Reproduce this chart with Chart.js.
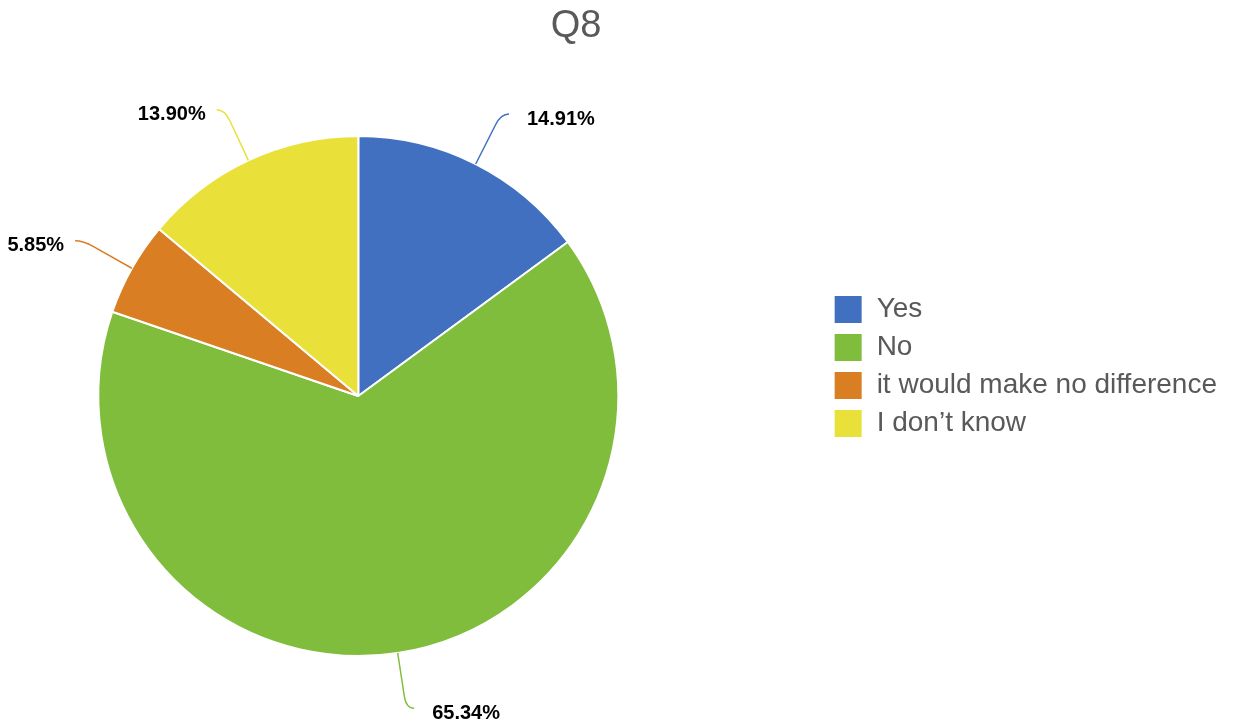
<!DOCTYPE html>
<html>
<head>
<meta charset="utf-8">
<title>Q8</title>
<script src="https://cdn.jsdelivr.net/npm/chart.js@4/dist/chart.umd.min.js"></script>
<style>
  html, body { margin: 0; padding: 0; background: #fff; overflow: hidden; }
  /* canvas is wider than the window and shifted left so the pie sits left of centre */
  canvas { display: block; margin-left: -108px; }
</style>
</head>
<body>
<canvas id="myChart" width="1341" height="721"></canvas>
<script>
const chartTitle = 'Q8';
const categories = ['Yes', 'No', 'it would make no difference', 'I don’t know'];
const shares = [14.91, 65.34, 5.85, 13.90];
const sliceColors = ['#4170C1', '#80BD3D', '#DA7E23', '#E9E13A'];

Chart.defaults.font.family = '"Liberation Sans", Arial, sans-serif';

// title drawn centred over the whole figure (not just the pie area)
const figureTitle = {
    id: 'figureTitle',
    afterDraw(chart) {
        const ctx = chart.ctx;
        ctx.save();
        ctx.font = '38px "Liberation Sans", Arial, sans-serif';
        ctx.fillStyle = '#595959';
        ctx.textAlign = 'center';
        ctx.textBaseline = 'middle';
        ctx.fillText(chartTitle, 684, 27);
        ctx.restore();
    }
};

// percentage labels with curved leader lines
const leaderLabels = {
    id: 'leaderLabels',
    afterDatasetsDraw(chart) {
        const ctx = chart.ctx;
        const meta = chart.getDatasetMeta(0);
        meta.data.forEach(function (arc, i) {
            const p = arc.getProps(['x', 'y', 'startAngle', 'endAngle', 'outerRadius'], true);
            const mid = (p.startAngle + p.endAngle) / 2;
            const dx = Math.cos(mid), dy = Math.sin(mid);
            const side = dx >= 0 ? 1 : -1;
            const x0 = p.x + dx * p.outerRadius, y0 = p.y + dy * p.outerRadius;
            const x1 = x0 + dx * 44, y1 = y0 + dy * 44;
            const xc = x0 + dx * 56, yc = y0 + dy * 56;
            const x2 = xc + side * 8, y2 = yc;

            ctx.save();
            ctx.strokeStyle = sliceColors[i];
            ctx.lineWidth = 1.5;
            ctx.beginPath();
            ctx.moveTo(x0, y0);
            ctx.lineTo(x1, y1);
            ctx.quadraticCurveTo(xc, yc, x2, y2);
            ctx.stroke();

            ctx.font = 'bold 20px "Liberation Sans", Arial, sans-serif';
            ctx.fillStyle = '#000';
            ctx.textAlign = side > 0 ? 'left' : 'right';
            ctx.textBaseline = 'middle';
            ctx.fillText(shares[i].toFixed(2) + '%', x2 + side * (side > 0 ? 18 : 11), y2 + 5);
            ctx.restore();
        });
    }
};

new Chart(document.getElementById('myChart').getContext('2d'), {
    type: 'pie',
    data: {
        labels: categories,
        datasets: [{
            data: shares,
            backgroundColor: sliceColors,
            borderColor: '#ffffff',
            borderWidth: 2,
            radius: 260,
            clip: false,
            hoverOffset: 0
        }]
    },
    options: {
        responsive: false,
        animation: false,
        events: [],
        layout: {
            padding: { top: 286, bottom: 215, left: 0, right: 6 }
        },
        plugins: {
            title: { display: false },
            tooltip: { enabled: false },
            legend: {
                position: 'right',
                align: 'start',
                fullSize: false,
                labels: {
                    boxWidth: 29,
                    boxHeight: 29,
                    padding: 9,
                    color: '#595959',
                    font: { size: 28 }
                }
            }
        }
    },
    plugins: [leaderLabels, figureTitle]
});
</script>
</body>
</html>
